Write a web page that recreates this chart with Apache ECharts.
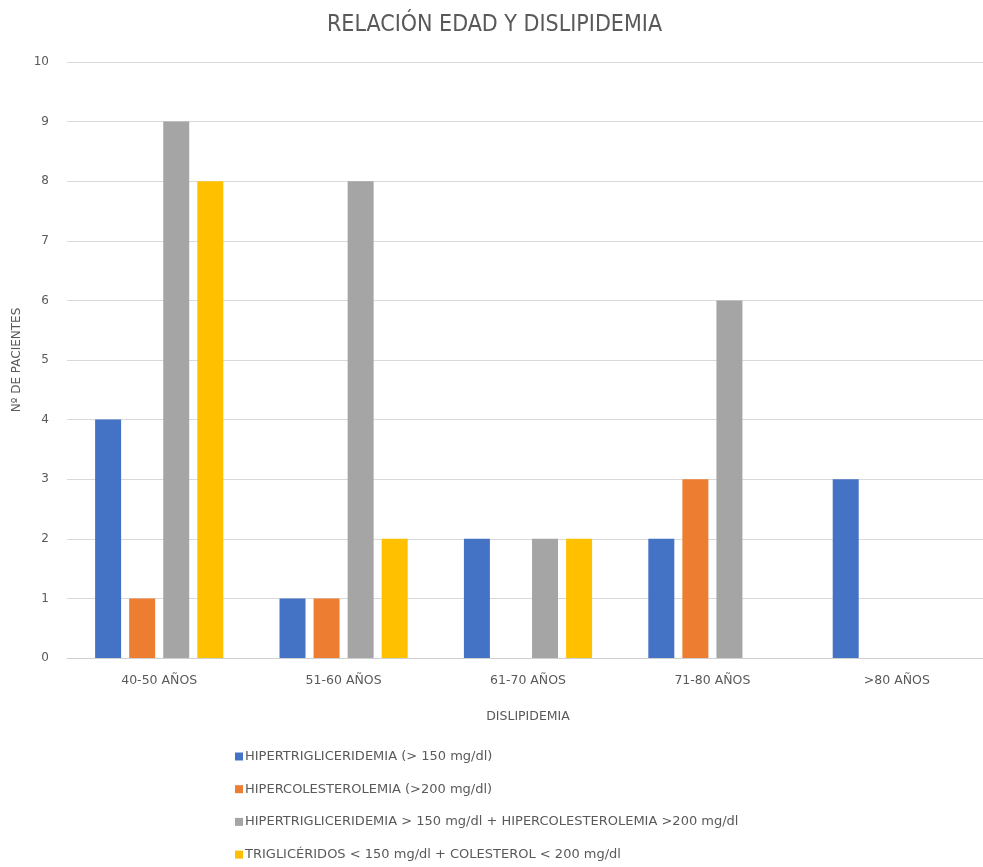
<!DOCTYPE html>
<html>
<head>
<meta charset="utf-8">
<script src="https://cdn.jsdelivr.net/npm/echarts@6/dist/echarts.min.js"></script>
<style>html,body{margin:0;padding:0;background:#fff;overflow:hidden}#c{width:989px;height:867px}</style>
</head>
<body>
<div id="c"></div>
<script>
const categories = ['40-50 AÑOS', '51-60 AÑOS', '61-70 AÑOS', '71-80 AÑOS', '>80 AÑOS'];
const seriesNames = [
  'HIPERTRIGLICERIDEMIA (> 150 mg/dl)',
  'HIPERCOLESTEROLEMIA (>200 mg/dl)',
  'HIPERTRIGLICERIDEMIA > 150 mg/dl + HIPERCOLESTEROLEMIA >200 mg/dl',
  'TRIGLICÉRIDOS < 150 mg/dl + COLESTEROL < 200 mg/dl'
];
const hipertrigliceridemia = [4, 1, 2, 2, 3];
const hipercolesterolemia = [1, 1, 0, 3, 0];
const ambas = [9, 8, 2, 6, 0];
const normales = [8, 2, 2, 0, 0];
const colors = ['#4472C4', '#ED7D31', '#A5A5A5', '#FFC000'];

const chart = echarts.init(document.getElementById('c'), null, {renderer: 'canvas'});
const txt = '#595959';
const font = 'DejaVu Sans';
const values = [hipertrigliceridemia, hipercolesterolemia, ambas, normales];
chart.setOption({
  animation: false,
  color: colors,
  title: {
    text: 'RELACIÓN EDAD Y DISLIPIDEMIA',
    left: 'center', top: 9,
    textStyle: {fontFamily: '"DejaVu Sans Condensed", "Liberation Sans Narrow", "Roboto Condensed", sans-serif', fontSize: 23, fontWeight: 'normal', color: txt}
  },
  grid: {left: 67, top: 62, right: 0, bottom: 209, containLabel: false},
  legend: {
    orient: 'vertical', left: 235, top: 750, padding: 0,
    itemWidth: 8, itemHeight: 8, itemGap: 19.7,
    icon: 'rect',
    textStyle: {fontFamily: font, fontSize: 13, color: txt, padding: [0, 0, 0, -3]},
    data: seriesNames
  },
  xAxis: {
    type: 'category', data: categories,
    name: 'DISLIPIDEMIA', nameLocation: 'middle', nameGap: 52,
    nameTextStyle: {fontFamily: font, fontSize: 12.5, color: txt},
    axisLine: {show: true, lineStyle: {color: '#d0d0d0'}},
    axisTick: {show: false},
    axisLabel: {fontFamily: font, fontSize: 12.5, color: txt, margin: 16}
  },
  yAxis: {
    type: 'value', min: 0, max: 10, interval: 1,
    name: 'Nº DE PACIENTES', nameLocation: 'middle', nameGap: 42,
    nameTextStyle: {fontFamily: font, fontSize: 12, color: txt},
    axisLine: {show: false}, axisTick: {show: false},
    axisLabel: {fontFamily: font, fontSize: 12, color: txt, margin: 18},
    splitLine: {lineStyle: {color: '#d9d9d9'}}
  },
  series: seriesNames.map((n, i) => ({
    name: n, type: 'bar', data: values[i],
    barWidth: 26, barGap: '31%'
  }))
});
</script>
</body>
</html>
